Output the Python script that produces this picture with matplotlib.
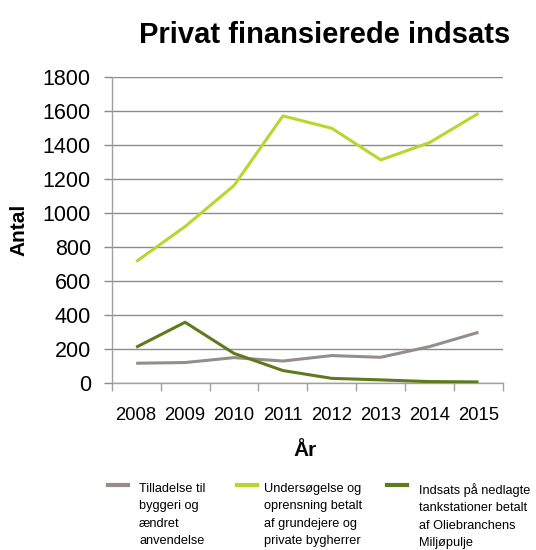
import matplotlib
matplotlib.use("Agg")
import matplotlib.pyplot as plt
from matplotlib.lines import Line2D
from matplotlib.ticker import FixedLocator

YEARS = ["2008", "2009", "2010", "2011", "2012", "2013", "2014", "2015"]
TILLADELSE = [118, 122, 151, 131, 163, 153, 216, 300]
UNDERSOEGELSE = [716, 922, 1163, 1573, 1500, 1314, 1416, 1588]
OLIEBRANCHEN = [212, 359, 176, 75, 29, 20, 10, 8]

LABELS = [
    "Tilladelse til\nbyggeri og\nændret\nanvendelse",
    "Undersøgelse og\noprensning betalt\naf grundejere og\nprivate bygherrer",
    "Indsats på nedlagte\ntankstationer betalt\naf Oliebranchens\nMiljøpulje",
]
COLORS = ["#978d88", "#bcd52e", "#5f7a1c"]

plt.rcParams["font.family"] = ["Liberation Sans", "DejaVu Sans"]

fig = plt.figure(figsize=(5.36, 5.5), dpi=100)
ax = fig.add_axes([0.2084, 0.3031, 0.7300, 0.5564])

x = list(range(len(YEARS)))
for values, color in zip([TILLADELSE, UNDERSOEGELSE, OLIEBRANCHEN], COLORS):
    ax.plot(x, values, color=color, linewidth=2.2, solid_capstyle="butt", zorder=3)

ax.set_xlim(-0.5, len(YEARS) - 0.5)
ax.set_ylim(0, 1800)
ax.set_yticks(range(0, 1801, 200))
ax.yaxis.grid(True, color="#8c8c8c", linewidth=1.0)
ax.set_axisbelow(True)

ax.set_xticks(x)
ax.set_xticklabels(YEARS)
ax.xaxis.set_minor_locator(FixedLocator([i - 0.5 for i in range(len(YEARS) + 1)]))
ax.tick_params(axis="x", which="major", length=0, pad=17, labelsize=13.3)
ax.tick_params(axis="x", which="minor", length=5.5, color="#a0a0a0", width=1)
ax.tick_params(axis="y", length=6, color="#8c8c8c", width=1, pad=9, labelsize=15.5)

for side in ["top", "right"]:
    ax.spines[side].set_visible(False)
for side in ["left", "bottom"]:
    ax.spines[side].set_color("#a0a0a0")
    ax.spines[side].set_linewidth(1.0)

fig.text(0.606, 0.9218, "Privat finansierede indsats", ha="center", va="baseline",
         fontsize=21, fontweight="bold")
fig.text(19 / 536, 1 - 230 / 550, "Antal", rotation=90, ha="center", va="center",
         fontsize=15, fontweight="bold")
fig.text(305 / 536, 1 - 450 / 550, "År", ha="center", va="center",
         fontsize=15, fontweight="bold")

# legend, drawn by hand so the swatch sits at the first text line
handle_x = [108, 237, 387]
text_x = [139, 264, 419]
for hx, tx, label, color in zip(handle_x, text_x, LABELS, COLORS):
    fig.add_artist(Line2D([hx / 536, (hx + 20) / 536], [1 - 485 / 550] * 2,
                          color=color, linewidth=3, transform=fig.transFigure))
    fig.text(tx / 536, 1 - 483 / 550, label, ha="left", va="top", fontsize=9.2,
             linespacing=1.6)

fig.savefig("out.png", dpi=100)
